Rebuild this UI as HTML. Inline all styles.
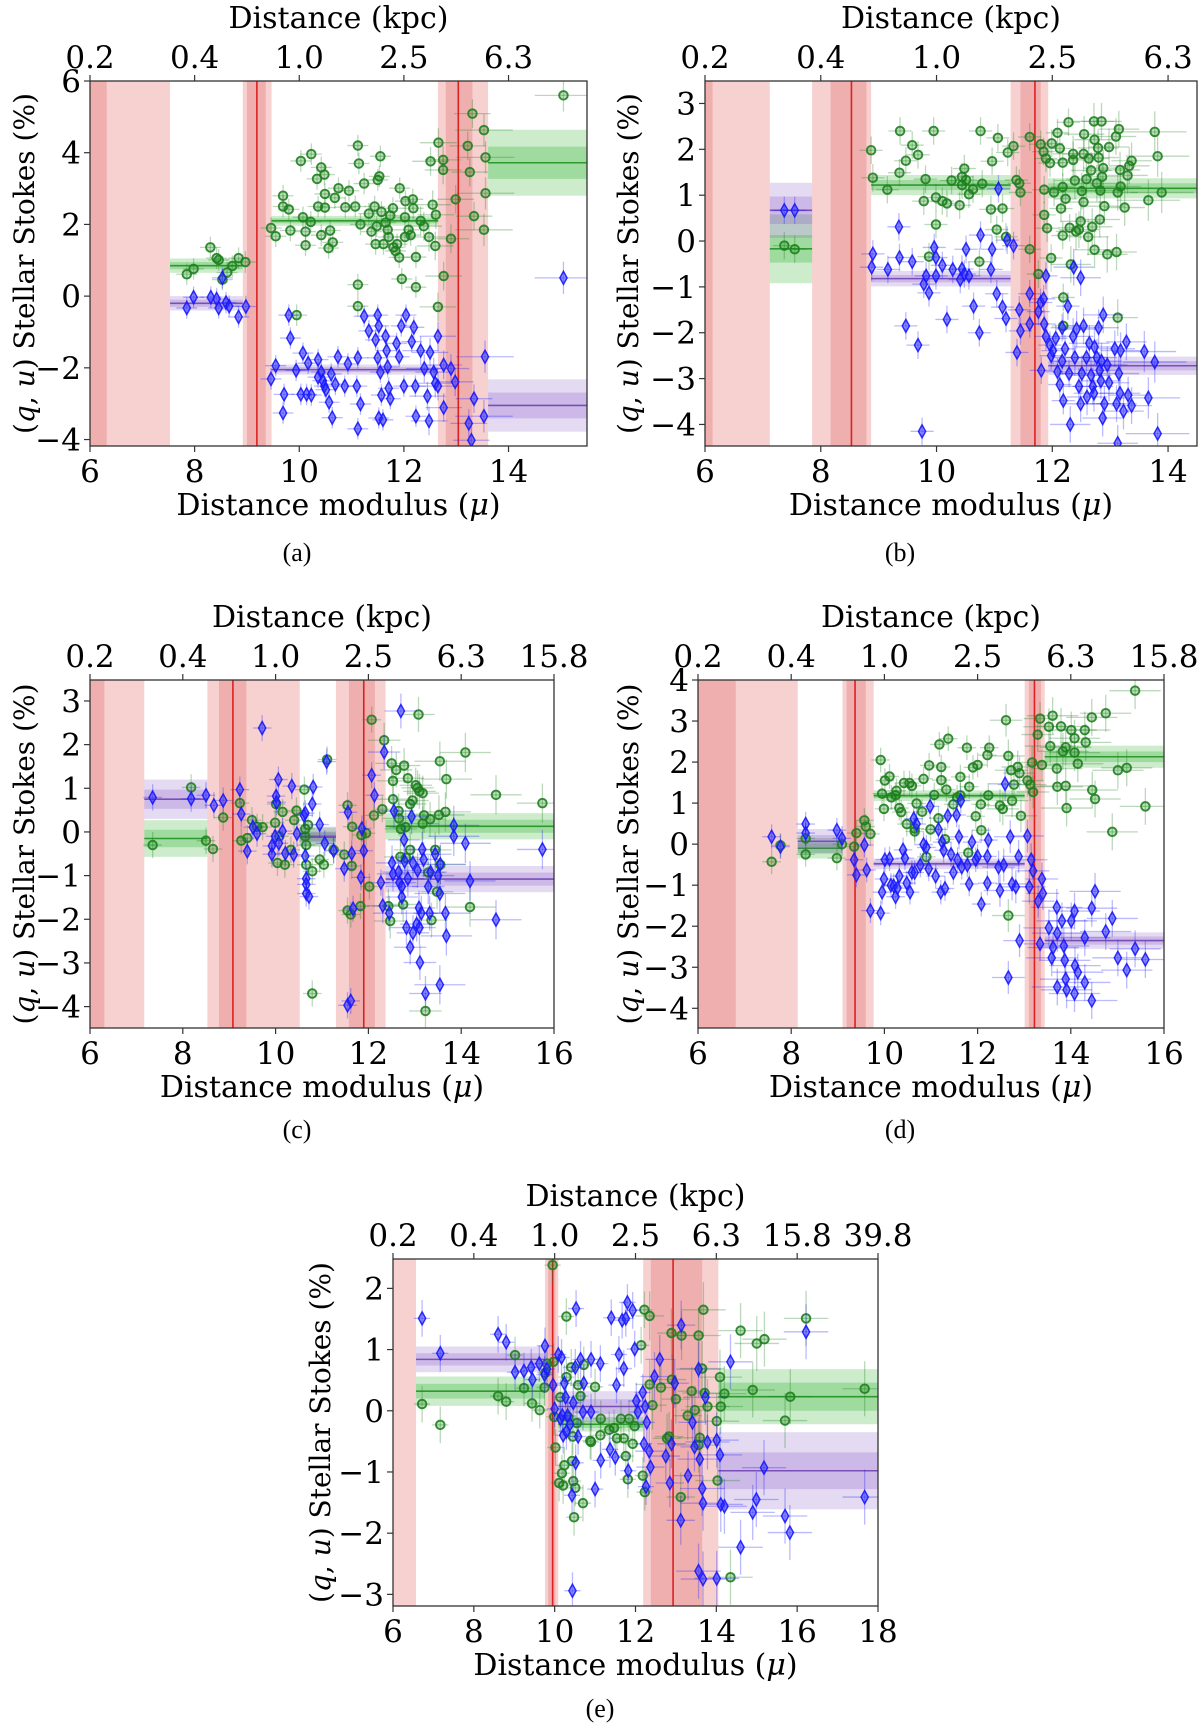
<!DOCTYPE html>
<html><head><meta charset="utf-8">
<style>
body{margin:0;background:#fff;}
svg{display:block;font-family:"DejaVu Serif","Liberation Serif",serif;}
</style></head>
<body>
<svg id="fig" width="1200" height="1726" viewBox="0 0 1200 1726" xmlns="http://www.w3.org/2000/svg"></svg>
<script>
// ---- Panel data (mu, value) ----
const aGreen=[[8.3,1.36],[7.85,0.61],[7.98,0.76],[8.42,1.06],[8.46,1.01],[8.62,0.66],[8.72,0.84],[8.84,1.06],[8.97,0.95],[8.53,0.46],[9.46,1.9],[9.55,1.67],[9.69,2.8],[9.69,2.5],[9.8,2.42],[9.83,1.83],[10.03,3.77],[10.07,2.2],[10.12,1.8],[10.12,1.42],[10.23,3.96],[10.22,2.07],[10.36,2.5],[10.34,3.27],[10.42,3.59],[10.48,3.39],[10.49,2.47],[10.49,2.85],[10.42,1.7],[10.56,1.34],[10.59,1.83],[10.64,1.5],[10.68,2.74],[10.75,3.01],[10.88,2.48],[10.95,2.94],[11.12,4.2],[11.14,3.7],[11.07,2.5],[11.17,2.0],[11.24,3.14],[11.33,2.3],[11.38,1.8],[11.44,2.5],[11.5,3.24],[11.55,3.9],[11.53,3.34],[11.48,1.95],[11.46,1.45],[11.57,2.35],[11.61,1.45],[11.65,2.05],[11.69,1.85],[11.71,1.65],[11.74,2.25],[11.8,1.36],[11.79,2.45],[11.84,1.26],[11.87,1.45],[11.91,1.08],[11.92,3.01],[11.96,0.48],[12.02,2.2],[12.02,1.65],[12.03,2.65],[12.09,1.85],[12.13,1.7],[12.18,2.45],[12.17,2.7],[12.23,1.09],[12.23,0.25],[12.32,2.1],[12.38,1.95],[12.48,1.65],[12.51,3.76],[12.55,2.55],[12.61,2.27],[12.6,1.4],[11.12,0.32],[11.12,-0.28],[9.95,-0.53],[12.66,4.28],[12.75,3.8],[12.75,3.52],[12.76,0.56],[12.65,-0.3],[12.9,1.6],[12.99,2.7],[13.22,4.19],[13.26,3.46],[13.31,5.09],[13.34,2.23],[13.53,4.63],[13.56,2.87],[13.56,3.87],[13.53,1.85],[15.05,5.6]];
const aBlue=[[7.85,-0.33],[7.98,-0.03],[8.31,-0.03],[8.42,-0.08],[8.46,-0.33],[8.6,-0.18],[8.66,-0.28],[8.84,-0.58],[8.98,-0.29],[8.53,0.51],[9.46,-2.31],[9.55,-1.94],[9.71,-2.74],[9.69,-3.26],[9.8,-0.53],[9.83,-1.17],[9.94,-2.07],[10.07,-1.59],[10.03,-2.74],[10.14,-2.74],[10.17,-1.87],[10.23,-2.76],[10.36,-1.77],[10.36,-2.26],[10.42,-2.12],[10.45,-2.36],[10.48,-2.51],[10.51,-2.61],[10.57,-2.96],[10.61,-2.17],[10.63,-3.39],[10.69,-2.46],[10.74,-1.69],[10.87,-2.51],[10.93,-1.89],[11.12,-1.72],[11.1,-2.51],[11.17,-3.01],[11.12,-3.7],[11.24,-0.56],[11.33,-0.97],[11.46,-1.22],[11.5,-0.53],[11.52,-0.83],[11.5,-1.72],[11.55,-2.12],[11.57,-2.76],[11.52,-3.4],[11.6,-3.45],[11.65,-1.12],[11.67,-1.52],[11.69,-1.97],[11.71,-2.57],[11.74,-2.86],[11.86,-1.32],[11.91,-1.69],[11.95,-0.83],[12.04,-0.53],[12.0,-2.51],[12.15,-1.27],[12.19,-0.87],[12.22,-2.51],[12.23,-3.35],[12.32,-1.52],[12.39,-2.02],[12.45,-2.79],[12.48,-3.48],[12.5,-1.57],[12.57,-2.12],[12.6,-2.43],[12.65,-1.12],[12.65,-2.51],[12.76,-1.92],[12.76,-3.11],[12.9,-2.02],[12.98,-2.39],[13.24,-3.55],[13.29,-4.02],[13.34,-2.86],[13.53,-3.35],[13.55,-1.69],[15.05,0.51]];
const bGreen=[[7.37,-0.1],[7.55,-0.18],[8.87,1.98],[8.9,1.38],[9.15,1.12],[9.36,1.49],[9.37,2.4],[9.47,1.75],[9.58,2.09],[9.68,1.88],[9.78,0.87],[9.81,1.35],[9.87,-0.34],[9.95,2.4],[9.99,0.36],[9.99,0.95],[10.1,0.87],[10.18,0.82],[10.26,1.32],[10.4,0.78],[10.44,1.4],[10.44,1.22],[10.48,1.58],[10.51,1.33],[10.56,1.02],[10.63,1.13],[10.74,-0.45],[10.76,2.4],[10.79,1.25],[10.94,0.69],[10.96,1.74],[11.04,0.25],[11.06,2.25],[11.14,0.71],[11.2,0.09],[11.23,1.93],[11.33,2.07],[11.38,1.33],[11.43,1.26],[11.45,1.06],[11.61,2.27],[11.61,-0.18],[11.76,-0.72],[11.8,2.11],[11.85,1.95],[11.86,0.57],[11.89,1.8],[11.91,0.28],[11.96,1.7],[11.98,-0.37],[11.86,1.12],[11.99,2.13],[12.03,1.06],[12.09,2.36],[12.13,2.02],[12.15,0.71],[12.18,1.71],[12.18,0.12],[12.18,1.18],[12.19,-1.23],[12.19,-1.85],[12.23,0.92],[12.28,2.59],[12.3,0.29],[12.32,-0.51],[12.36,1.9],[12.36,1.77],[12.39,1.32],[12.41,0.21],[12.46,0.25],[12.49,0.43],[12.51,1.09],[12.54,1.9],[12.54,0.85],[12.55,2.33],[12.59,1.35],[12.62,0.09],[12.63,1.8],[12.67,1.54],[12.69,0.31],[12.72,2.61],[12.73,2.21],[12.73,-0.19],[12.77,1.26],[12.79,2.03],[12.8,1.82],[12.82,0.47],[12.83,1.1],[12.85,2.61],[12.86,1.4],[12.88,1.59],[12.9,0.76],[12.95,-0.29],[12.98,2.05],[13.1,2.28],[13.11,-0.24],[13.13,-1.67],[13.13,1.06],[13.15,2.44],[13.17,1.55],[13.18,1.19],[13.25,0.73],[13.3,1.43],[13.33,1.64],[13.37,1.75],[13.66,0.89],[13.77,2.38],[13.82,1.85],[13.89,1.06]];
const bBlue=[[7.37,0.67],[7.55,0.67],[8.88,-0.57],[8.9,-0.28],[9.16,-0.62],[9.35,0.31],[9.36,-0.36],[9.47,-1.85],[9.58,-0.45],[9.68,-2.27],[9.75,-4.15],[9.78,-0.94],[9.82,-0.76],[9.87,-1.13],[9.96,-0.14],[9.99,-0.36],[9.99,-0.76],[10.1,-0.53],[10.18,-1.71],[10.28,-0.62],[10.41,-0.84],[10.44,-0.61],[10.48,-0.72],[10.51,-0.18],[10.56,-0.76],[10.64,-1.42],[10.74,-2.0],[10.76,0.13],[10.94,-0.62],[10.96,-0.18],[11.04,-1.15],[11.07,1.14],[11.14,-1.44],[11.2,-1.69],[11.22,0.02],[11.33,-0.1],[11.39,-2.43],[11.43,-1.5],[11.45,-1.96],[11.61,-1.15],[11.61,-1.81],[11.76,-1.54],[11.8,-1.34],[11.81,-2.82],[11.85,-1.26],[11.86,-1.81],[11.89,-0.76],[11.89,-2.08],[11.96,-2.27],[11.98,-2.5],[12.01,-2.39],[12.06,-2.12],[12.09,-2.85],[12.13,-3.13],[12.17,-2.62],[12.17,-1.89],[12.19,-3.48],[12.22,-2.35],[12.27,-1.42],[12.29,-2.89],[12.31,-4.0],[12.36,-2.08],[12.37,-0.57],[12.39,-2.54],[12.42,-1.92],[12.46,-3.17],[12.49,-3.55],[12.49,-0.8],[12.51,-2.89],[12.54,-1.85],[12.59,-2.54],[12.6,-3.4],[12.64,-2.23],[12.67,-2.93],[12.7,-3.17],[12.72,-3.32],[12.73,-2.31],[12.77,-2.54],[12.8,-1.89],[12.82,-2.82],[12.84,-3.05],[12.85,-2.62],[12.87,-3.86],[12.88,-1.61],[12.9,-3.55],[12.95,-2.7],[12.98,-3.09],[13.08,-2.35],[13.11,-3.55],[13.13,-4.41],[13.15,-2.89],[13.17,-3.32],[13.18,-2.39],[13.23,-3.71],[13.28,-2.2],[13.31,-3.36],[13.37,-3.59],[13.59,-2.41],[13.66,-3.42],[13.77,-2.64],[13.82,-4.2]];
const cGreen=[[7.35,-0.3],[8.18,1.02],[8.5,-0.2],[8.65,-0.39],[8.87,0.33],[9.23,0.66],[9.26,-0.2],[9.39,-0.14],[9.49,0.27],[9.6,0.12],[9.72,0.11],[9.99,0.21],[10.01,0.64],[10.04,-0.71],[10.08,-0.1],[10.15,0.46],[10.2,-0.75],[10.33,-0.41],[10.4,0.27],[10.45,0.49],[10.62,0.97],[10.64,0.07],[10.64,-0.1],[10.66,-0.3],[10.66,-0.75],[10.7,0.16],[10.79,-0.9],[10.79,-3.7],[10.95,-0.63],[11.04,-0.75],[11.11,1.66],[11.25,-0.41],[11.48,-0.52],[11.55,0.61],[11.55,-1.8],[11.62,-1.89],[11.65,0.12],[11.64,-0.78],[11.83,-1.7],[11.85,-0.07],[11.95,-0.03],[12.02,-1.25],[12.07,2.57],[12.12,0.38],[12.3,0.52],[12.34,2.1],[12.43,-1.7],[12.47,-2.04],[12.5,1.57],[12.53,1.17],[12.53,0.75],[12.6,1.42],[12.65,0.48],[12.66,0.31],[12.69,-0.57],[12.7,0.07],[12.75,-1.66],[12.77,1.52],[12.8,0.11],[12.81,-0.59],[12.85,1.23],[12.9,0.64],[12.9,-0.41],[12.95,0.72],[13.02,1.07],[13.06,1.01],[13.08,2.69],[13.1,0.93],[13.17,0.89],[13.17,0.19],[13.2,0.38],[13.23,-4.1],[13.29,-0.93],[13.33,0.29],[13.36,-2.02],[13.44,-0.41],[13.48,-1.37],[13.52,0.39],[13.54,1.62],[13.55,-0.75],[13.66,0.46],[13.68,1.21],[14.09,1.82],[14.19,-1.72],[14.75,0.85],[15.75,0.66]];
const cBlue=[[7.35,0.79],[8.18,0.76],[8.5,0.84],[8.67,0.61],[8.87,0.72],[9.23,0.97],[9.26,0.41],[9.39,-0.44],[9.51,0.11],[9.6,-0.04],[9.71,2.38],[9.92,-0.32],[9.92,-0.51],[9.99,-0.1],[10.01,0.82],[10.02,0.68],[10.06,1.2],[10.07,-0.26],[10.15,0.02],[10.21,-0.49],[10.35,1.05],[10.39,-0.52],[10.46,-0.04],[10.61,0.38],[10.64,0.43],[10.64,-0.55],[10.66,-1.07],[10.66,-1.2],[10.66,-1.41],[10.72,-1.48],[10.79,0.64],[10.81,1.03],[10.95,0.17],[11.06,-0.26],[11.1,1.61],[11.25,-0.43],[11.48,-0.84],[11.56,0.45],[11.55,-3.97],[11.62,-3.87],[11.64,-0.49],[11.67,-1.76],[11.84,-1.04],[11.86,0.08],[11.9,-0.43],[12.07,1.3],[12.13,0.84],[12.27,-1.16],[12.34,1.83],[12.31,-1.69],[12.45,-1.86],[12.51,-0.71],[12.53,-0.96],[12.55,0.48],[12.65,-0.92],[12.67,-1.16],[12.7,2.77],[12.72,-1.49],[12.72,-1.25],[12.77,-0.18],[12.78,-0.67],[12.82,-2.19],[12.85,-1.07],[12.9,-2.64],[12.93,0.35],[12.96,-2.31],[12.96,-0.71],[13.04,-2.11],[13.06,-0.88],[13.09,-1.74],[13.1,-2.19],[13.11,-2.99],[13.14,-1.86],[13.16,-0.4],[13.19,-0.63],[13.23,-3.7],[13.29,-1.25],[13.32,-1.86],[13.34,-0.92],[13.44,-0.51],[13.5,-1.0],[13.54,-1.41],[13.54,-3.5],[13.55,-0.74],[13.66,-1.86],[13.68,-2.38],[13.84,0.15],[13.84,-0.1],[14.09,-0.26],[14.19,-1.12],[14.75,-2.01],[15.75,-0.4]];
const dGreen=[[7.58,-0.43],[7.77,-0.03],[8.31,0.14],[8.31,-0.25],[8.98,-0.34],[9.09,0],[9.35,-0.06],[9.4,0.27],[9.57,0.58],[9.6,0.43],[9.7,0.25],[9.92,2.05],[9.95,1.23],[9.99,0.86],[10.01,1.55],[10.11,1.65],[10.15,1.14],[10.24,1.19],[10.26,1.3],[10.32,0.88],[10.36,0.78],[10.42,1.49],[10.48,0.49],[10.54,1.49],[10.59,1.42],[10.65,0.31],[10.65,0.38],[10.69,0.99],[10.81,0.79],[10.84,1.59],[10.9,-0.31],[10.96,1.92],[10.99,0.36],[11.07,1.2],[11.16,0.63],[11.18,2.43],[11.22,1.56],[11.22,1.88],[11.3,0.12],[11.33,1.33],[11.37,2.57],[11.48,0.97],[11.56,1.14],[11.63,1.64],[11.63,1.19],[11.77,2.35],[11.8,-0.21],[11.82,1.4],[11.9,1.87],[11.96,0.68],[12.0,1.93],[12.07,0.97],[12.08,0.34],[12.21,2.17],[12.25,2.35],[12.23,1.19],[12.48,0.94],[12.54,0.86],[12.61,3.02],[12.66,2.15],[12.66,-1.74],[12.72,1.8],[12.74,1.06],[12.78,1.45],[12.86,1.88],[12.9,1.73],[12.93,0.69],[13.07,1.55],[13.13,1.45],[13.17,1.99],[13.19,1.27],[13.29,2.67],[13.34,3.06],[13.38,1.93],[13.53,2.86],[13.56,2.39],[13.61,3.13],[13.7,1.84],[13.71,1.4],[13.79,2.87],[13.83,2.26],[13.89,2.36],[13.89,1.42],[13.91,0.88],[14.01,2.78],[14.08,2.23],[14.08,2.58],[14.15,1.96],[14.3,2.78],[14.32,2.48],[14.45,3.09],[14.46,1.32],[14.52,1.1],[14.75,3.19],[14.89,0.3],[15.01,1.8],[15.2,1.86],[15.38,3.74],[15.6,0.92]];
const dBlue=[[7.58,0.18],[7.77,-0.06],[8.31,0.49],[8.31,0.27],[8.98,0.34],[9.09,0.14],[9.35,-0.38],[9.4,-0.75],[9.57,-0.02],[9.62,-0.63],[9.7,-1.62],[9.92,-1.68],[9.95,-1.17],[9.99,-0.85],[10.01,-0.38],[10.11,-0.36],[10.14,-1.0],[10.2,-1.02],[10.24,-1.28],[10.28,-1.07],[10.32,-0.78],[10.4,-0.14],[10.44,-0.34],[10.48,-0.95],[10.55,-1.17],[10.59,-0.69],[10.63,0.62],[10.65,-0.69],[10.69,0.49],[10.77,-0.51],[10.84,-0.01],[10.9,-0.08],[10.95,-0.6],[10.98,0.92],[11.1,-0.78],[11.16,0.36],[11.21,-1.17],[11.24,0.05],[11.27,-0.15],[11.3,-1.08],[11.36,0.69],[11.43,-0.25],[11.48,-0.69],[11.55,0.71],[11.57,-0.38],[11.6,0.18],[11.64,1.06],[11.66,-0.56],[11.78,-0.51],[11.82,-0.97],[11.88,0.05],[11.96,-0.38],[12.0,-0.3],[12.08,-1.46],[12.21,-0.95],[12.21,-0.3],[12.23,0.1],[12.45,-0.56],[12.48,-1.13],[12.56,-0.51],[12.59,1.47],[12.66,-3.25],[12.7,0.18],[12.74,-0.97],[12.82,-1.04],[12.9,-2.35],[12.88,-0.3],[13.07,0.2],[13.11,-1.04],[13.15,-0.38],[13.19,-0.65],[13.3,-1.39],[13.34,-2.43],[13.38,-0.85],[13.4,-1.2],[13.53,-2.04],[13.59,-2.77],[13.62,-2.52],[13.7,-1.54],[13.71,-2.17],[13.71,-3.48],[13.81,-1.87],[13.85,-2.48],[13.87,-2.83],[13.89,-3.29],[13.91,-3.55],[14.01,-1.87],[14.08,-1.63],[14.08,-3.64],[14.09,-2.96],[14.15,-3.12],[14.3,-2.28],[14.3,-3.37],[14.45,-1.56],[14.45,-3.81],[14.52,-1.15],[14.75,-2.13],[14.89,-1.81],[15.01,-2.77],[15.2,-3.07],[15.38,-2.55],[15.6,-2.81]];
const eGreen=[[6.72,0.11],[7.17,-0.23],[8.6,0.24],[8.8,0.15],[9.02,0.91],[9.24,0.37],[9.44,0.12],[9.63,0.01],[9.75,0.38],[9.77,0.62],[9.81,0.77],[9.95,2.38],[9.97,0.8],[9.99,-0.1],[10.02,-0.6],[10.11,-1.18],[10.14,0.22],[10.18,-1.02],[10.21,-1.22],[10.24,-0.89],[10.29,1.54],[10.29,0.55],[10.33,-0.1],[10.41,0.71],[10.43,-0.82],[10.45,-0.42],[10.46,-1.15],[10.48,-1.74],[10.51,-1.26],[10.55,-0.2],[10.58,0.42],[10.64,0.24],[10.7,-1.51],[10.72,0.75],[10.88,-0.49],[10.9,-0.51],[11.0,0.39],[11.13,-0.4],[11.14,-0.13],[11.35,-0.31],[11.47,-0.28],[11.54,-0.45],[11.64,-0.13],[11.71,-0.45],[11.76,-0.74],[11.81,-1.12],[11.84,-0.13],[11.93,-0.54],[11.98,-0.25],[12.14,1.07],[12.18,-1.06],[12.22,1.65],[12.23,-1.33],[12.35,1.55],[12.35,0.43],[12.42,0.09],[12.63,0.38],[12.78,-0.45],[12.83,-0.42],[12.89,1.27],[12.9,0.51],[13.0,0.19],[13.12,-1.41],[13.14,1.23],[13.29,-0.08],[13.39,0.32],[13.47,0.01],[13.56,1.23],[13.56,-0.56],[13.59,-0.44],[13.65,0.69],[13.68,1.65],[13.71,0.29],[13.78,0.07],[14.01,-0.17],[14.03,-1.14],[14.09,0.55],[14.11,0.07],[14.2,0.28],[14.35,-2.72],[14.6,1.31],[14.9,0.34],[15.0,1.1],[15.19,1.17],[15.7,-0.16],[15.83,0.23],[16.22,1.51],[17.67,0.36]];
const eBlue=[[6.72,1.51],[7.17,0.94],[8.6,1.25],[8.8,1.12],[9.02,0.63],[9.24,0.65],[9.45,0.51],[9.42,0.71],[9.62,0.77],[9.75,0.59],[9.76,1.06],[9.81,0.68],[9.96,0.42],[10.0,0.03],[10.09,0.92],[10.14,-0.13],[10.17,0.87],[10.19,-0.08],[10.21,-0.4],[10.24,0.45],[10.27,0.22],[10.29,-0.34],[10.32,-0.08],[10.38,-0.22],[10.43,-1.38],[10.44,-2.94],[10.46,0.13],[10.51,0.71],[10.53,1.67],[10.52,-0.85],[10.58,-0.42],[10.64,0.84],[10.7,-0.02],[10.72,0.45],[10.9,-0.02],[10.9,0.84],[11.0,-1.28],[11.13,0.77],[11.14,-0.81],[11.37,-0.63],[11.4,1.52],[11.5,-0.76],[11.53,0.42],[11.59,0.92],[11.67,1.48],[11.71,0.69],[11.76,1.51],[11.8,1.77],[11.82,-0.98],[11.93,1.64],[11.98,1.01],[12.02,0.16],[12.06,-0.02],[12.18,0.3],[12.21,-0.54],[12.24,0.07],[12.26,-1.24],[12.28,-0.19],[12.34,-0.66],[12.37,-0.92],[12.47,0.56],[12.6,0.84],[12.75,-0.74],[12.85,-1.18],[12.89,-0.54],[12.97,0.45],[13.13,1.4],[13.12,-1.79],[13.3,-1.06],[13.41,-0.19],[13.46,-0.59],[13.56,0.68],[13.56,-2.62],[13.59,-0.79],[13.65,-1.27],[13.67,-1.51],[13.67,-2.75],[13.73,0.22],[13.78,-0.51],[14.01,-0.48],[14.01,-2.74],[14.09,-0.72],[14.11,-1.53],[14.2,-1.56],[14.35,0.8],[14.6,-2.23],[14.9,-1.66],[14.99,-1.45],[15.18,-0.93],[15.7,-1.72],[15.82,-1.99],[16.22,1.29],[17.67,-1.41]];
// cloud regions: [outerLo, innerLo, innerHi, outerHi, centre]
const aClouds=[[6,6,6.32,7.53,null],[8.92,9.0,9.36,9.47,9.19],[12.65,12.8,13.31,13.61,13.04]];
const bClouds=[[6,6,6.13,7.12,null],[7.85,8.17,8.79,8.87,8.53],[11.28,11.45,11.8,11.93,11.7]];
const cClouds=[[6,6,6.31,7.17,null],[8.53,8.78,9.37,10.52,9.08],[11.3,11.58,12.14,12.37,11.9]];
const dClouds=[[6,6,6.81,8.14,null],[9.1,9.19,9.6,9.77,9.37],[13.01,13.1,13.36,13.44,13.22]];
const eClouds=[[6,6,6,6.57,null],[9.76,9.84,10.02,10.09,9.95],[12.19,12.38,13.65,14.05,12.93]];
// fitted q (green) and u (purple) bands: [x0, x1, centre, lightHalf, darkHalf]
const aQ=[[7.53,8.92,0.85,0.2,0.1],[9.47,12.65,2.1,0.14,0.07],[13.61,15.5,3.72,0.92,0.45]];
const aU=[[7.53,8.92,-0.2,0.2,0.1],[9.47,12.65,-2.05,0.14,0.07],[13.61,15.5,-3.05,0.73,0.36]];
const bQ=[[7.12,7.85,-0.17,0.75,0.3],[8.87,11.28,1.22,0.22,0.11],[11.93,14.5,1.15,0.22,0.11]];
const bU=[[7.12,7.85,0.67,0.6,0.3],[8.87,11.28,-0.82,0.17,0.08],[11.93,14.5,-2.72,0.2,0.1]];
const cQ=[[7.17,8.53,-0.15,0.42,0.2],[10.52,11.3,-0.12,0.22,0.11],[12.37,16,0.13,0.3,0.15]];
const cU=[[7.17,8.53,0.75,0.45,0.22],[10.52,11.3,-0.1,0.22,0.11],[12.37,16,-1.08,0.3,0.15]];
const dQ=[[8.14,9.1,-0.1,0.25,0.12],[9.77,13.01,1.18,0.13,0.06],[13.44,16,2.13,0.27,0.13]];
const dU=[[8.14,9.1,0.07,0.3,0.15],[9.77,13.01,-0.48,0.13,0.06],[13.44,16,-2.35,0.2,0.1]];
const eQ=[[6.57,9.76,0.32,0.24,0.12],[10.09,12.19,-0.22,0.12,0.06],[14.05,18,0.23,0.45,0.23]];
const eU=[[6.57,9.76,0.84,0.21,0.1],[10.09,12.19,0.07,0.25,0.12],[14.05,18,-0.98,0.63,0.3]];
// axis ticks
const aYTicks=[-4,-2,0,2,4,6], bYTicks=[-4,-3,-2,-1,0,1,2,3], cYTicks=[-4,-3,-2,-1,0,1,2,3], dYTicks=[-4,-3,-2,-1,0,1,2,3,4], eYTicks=[-3,-2,-1,0,1,2];
const aXTicks=[6,8,10,12,14], bXTicks=[6,8,10,12,14], cXTicks=[6,8,10,12,14,16], dXTicks=[6,8,10,12,14,16], eXTicks=[6,8,10,12,14,16,18];

const panels=[
 {id:'a',box:[90,81,587,446],xr:[6,15.5],yr:[-4.18,6],yl:24,g:aGreen,b:aBlue,cl:aClouds,q:aQ,u:aU,yt:aYTicks,xt:aXTicks,cap:[297,561]},
 {id:'b',box:[705,81,1197,446],xr:[6,14.5],yr:[-4.47,3.49],yl:628,g:bGreen,b:bBlue,cl:bClouds,q:bQ,u:bU,yt:bYTicks,xt:bXTicks,cap:[900,561]},
 {id:'c',box:[90,680,554,1028],xr:[6,16],yr:[-4.49,3.48],yl:24,g:cGreen,b:cBlue,cl:cClouds,q:cQ,u:cU,yt:cYTicks,xt:cXTicks,cap:[297,1138]},
 {id:'d',box:[698,680,1164,1028],xr:[6,16],yr:[-4.48,4.0],yl:628,g:dGreen,b:dBlue,cl:dClouds,q:dQ,u:dU,yt:dYTicks,xt:dXTicks,cap:[900,1138]},
 {id:'e',box:[393,1259,878,1606],xr:[6,18],yr:[-3.19,2.48],yl:320,g:eGreen,b:eBlue,cl:eClouds,q:eQ,u:eU,yt:eYTicks,xt:eXTicks,cap:[600,1717]}
];
const NS='http://www.w3.org/2000/svg';
const svg=document.getElementById('fig');
function mk(tag,attrs,parent,text){const e=document.createElementNS(NS,tag);for(const k in attrs)e.setAttribute(k,attrs[k]);if(text!==undefined)e.textContent=text;(parent||svg).appendChild(e);return e;}
function fmt(v){return v<0?'\u2212'+Math.abs(v):String(v);}
const FS=31, TS=30, YS=28;
panels.forEach(p=>{
 const [L,T,R,B]=p.box;
 const X=v=>L+(v-p.xr[0])/(p.xr[1]-p.xr[0])*(R-L);
 const Y=v=>B-(v-p.yr[0])/(p.yr[1]-p.yr[0])*(B-T);
 const g=mk('g',{});
 
 
 const cid='clip'+p.id;
 const cp=mk('clipPath',{id:cid},g);mk('rect',{x:L,y:T,width:R-L,height:B-T},cp);
 const pl=mk('g',{'clip-path':'url(#'+cid+')'},g);
 p.cl.forEach((c,i)=>{
  const r1=mk('rect',{x:X(c[0]),y:T,width:X(c[3])-X(c[0]),height:B-T,fill:'#f7d0d0'},pl);
  
  
  if(c[2]>c[1]){const r2=mk('rect',{x:X(c[1]),y:T,width:X(c[2])-X(c[1]),height:B-T,fill:'#f0afaf'},pl);
   
   }
  if(c[4]!==null){const ln=mk('line',{x1:X(c[4]),x2:X(c[4]),y1:T,y2:B,stroke:'#dd2020','stroke-width':1.6},pl);
   
   }
 });
 [[p.q,'0,160,0','#2e9a2e','q-band'],[p.u,'120,70,190','#7a4fb5','u-band']].forEach(([arr,rgb,lc,nm])=>{
  arr.forEach((s,i)=>{
   const x0=X(s[0]),w=X(s[1])-X(s[0]);
   const r1=mk('rect',{x:x0,y:Y(s[2]+s[3]),width:w,height:Y(s[2]-s[3])-Y(s[2]+s[3]),fill:'rgba('+rgb+',0.2)'},pl);
   
   
   const r2=mk('rect',{x:x0,y:Y(s[2]+s[4]),width:w,height:Y(s[2]-s[4])-Y(s[2]+s[4]),fill:'rgba('+rgb+',0.22)'},pl);
   
   
   const ln=mk('line',{x1:x0,x2:x0+w,y1:Y(s[2]),y2:Y(s[2]),stroke:lc,'stroke-width':1.6},pl);
   
   
  });
 });
 function errs(m){return m>13.5?[0.55,0.45]:(m>12.3?[0.35,0.4]:[0.2,0.3]);}
 [[p.g,'g'],[p.b,'b']].forEach(([arr,kind])=>{
  const col=kind==='g'?'#1f7f1f':'#1a1aff';
  arr.forEach(pt=>{
   const [ex,ey]=errs(pt[0]);
   const cx=X(pt[0]),cy=Y(pt[1]);
   mk('line',{x1:X(pt[0]-ex),x2:X(pt[0]+ex),y1:cy,y2:cy,stroke:col,'stroke-opacity':0.3,'stroke-width':1.3},pl);
   mk('line',{x1:cx,x2:cx,y1:Y(pt[1]-ey),y2:Y(pt[1]+ey),stroke:col,'stroke-opacity':0.3,'stroke-width':1.3},pl);
   let m;
   if(kind==='g'){m=mk('circle',{cx:cx,cy:cy,r:4.3,fill:'rgba(0,128,0,0.25)',stroke:'#207f20','stroke-width':1.9,'stroke-opacity':0.9},pl);
    }
   else{m=mk('path',{d:`M${cx} ${cy-6.5}L${cx+3.6} ${cy}L${cx} ${cy+6.5}L${cx-3.6} ${cy}Z`,fill:'rgba(40,40,255,0.5)',stroke:'#1818ff','stroke-width':1.5,'stroke-opacity':0.9},pl);
    }
   
  });
 });
 const fr=mk('rect',{x:L,y:T,width:R-L,height:B-T,fill:'none',stroke:'#333','stroke-width':1.3},g);
 
 
 p.yt.forEach(v=>{const y=Y(v);mk('line',{x1:L-6,x2:L,y1:y,y2:y,stroke:'#333','stroke-width':1.2},g);
  const t=mk('text',{x:L-9,y:y+11,'text-anchor':'end','font-size':FS},g,fmt(v));
  
  });
 p.xt.forEach(v=>{const x=X(v);
  mk('line',{x1:x,x2:x,y1:B,y2:B+6,stroke:'#333','stroke-width':1.2},g);
  mk('line',{x1:x,x2:x,y1:T-6,y2:T,stroke:'#333','stroke-width':1.2},g);
  const t=mk('text',{x:x,y:B+36,'text-anchor':'middle','font-size':FS},g,String(v));
  
  
  const kpc=Math.pow(10,v/5+1)/1000;
  const t2=mk('text',{x:x,y:T-13,'text-anchor':'middle','font-size':FS},g,kpc.toFixed(1));
  
  });
 const xt=mk('text',{x:(L+R)/2,y:B+69,'text-anchor':'middle','font-size':TS},g);
 
 
 xt.appendChild(document.createTextNode('Distance modulus ('));
 mk('tspan',{'font-style':'italic'},xt,'\u03bc');
 xt.appendChild(document.createTextNode(')'));
 const tt=mk('text',{x:(L+R)/2,y:T-53,'text-anchor':'middle','font-size':TS},g,'Distance (kpc)');
 
 
 const yc=(T+B)/2;
 const yt=mk('text',{x:p.yl,y:yc,'text-anchor':'middle','font-size':YS,transform:`rotate(-90 ${p.yl} ${yc}) translate(0 10)`},g);
 
 
 yt.appendChild(document.createTextNode('('));
 mk('tspan',{'font-style':'italic'},yt,'q');
 yt.appendChild(document.createTextNode(', '));
 mk('tspan',{'font-style':'italic'},yt,'u');
 yt.appendChild(document.createTextNode(') Stellar Stokes (%)'));
 const cap=mk('text',{x:p.cap[0],y:p.cap[1],'text-anchor':'middle','font-size':26,'font-family':'Liberation Serif, serif'},g,'('+p.id+')');
 
 
});
</script>
</body></html>
